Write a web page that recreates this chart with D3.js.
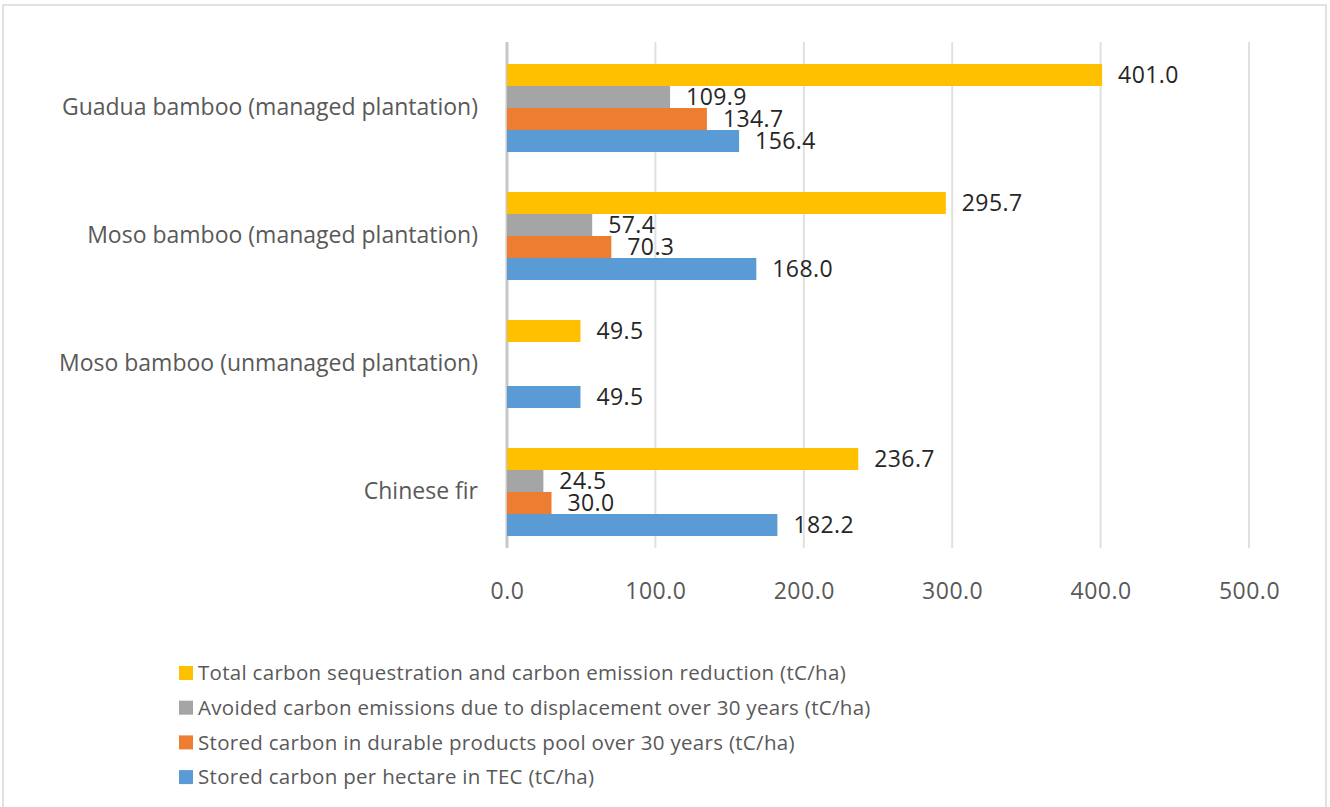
<!DOCTYPE html>
<html>
<head>
<meta charset="utf-8">
<script src="https://cdn.jsdelivr.net/npm/d3@7"></script>
<style>
  body { margin: 0; background: #fff; }
  svg { display: block; font-family: "Open Sans", "Noto Sans", sans-serif; }
</style>
</head>
<body>
<svg id="chart"></svg>
<script>
// chart data
const categories = [
  "Guadua bamboo (managed plantation)",
  "Moso bamboo (managed plantation)",
  "Moso bamboo (unmanaged plantation)",
  "Chinese fir"
];
const seriesNames = [
  "Total carbon sequestration and carbon emission reduction (tC/ha)",
  "Avoided carbon emissions due to displacement over 30 years (tC/ha)",
  "Stored carbon in durable products pool over 30 years (tC/ha)",
  "Stored carbon per hectare in TEC (tC/ha)"
];
const totalValues = [401.0, 295.7, 49.5, 236.7];
const avoidedValues = [109.9, 57.4, 0, 24.5];
const durableValues = [134.7, 70.3, 0, 30.0];
const storedValues = [156.4, 168.0, 49.5, 182.2];
const xTicks = [0, 100, 200, 300, 400, 500];

const seriesColors = ["#FFC000", "#A5A5A5", "#ED7D31", "#5B9BD5"];
const seriesValues = [totalValues, avoidedValues, durableValues, storedValues];

const width = 1330, height = 807;
const svg = d3.select("#chart").attr("width", width).attr("height", height);

// outer frame
svg.append("rect")
  .attr("x", 3).attr("y", 5)
  .attr("width", 1323).attr("height", 810)
  .attr("fill", "none")
  .attr("stroke", "#d9d9d9")
  .attr("stroke-width", 1.5);

const xScale = d3.scaleLinear().domain([0, 500]).range([507, 1249]);

const yScale = d3.scaleBand()
  .domain(categories)
  .range([44, 556])
  .paddingInner(0.3125)
  .paddingOuter(0.15625);

const ySub = d3.scaleBand()
  .domain(seriesNames)
  .range([0, yScale.bandwidth()]);

// gridlines
svg.append("g")
  .selectAll("line")
  .data(xTicks)
  .enter()
  .append("line")
  .attr("x1", d => xScale(d))
  .attr("x2", d => xScale(d))
  .attr("y1", 42)
  .attr("y2", 548)
  .attr("stroke", d => d === 0 ? "#c8c8c8" : "#e0e0e0")
  .attr("stroke-width", d => d === 0 ? 3 : 2);

// x axis labels
const xAxis = d3.axisBottom(xScale)
  .tickValues(xTicks)
  .tickFormat(d3.format(".1f"))
  .tickSize(0)
  .tickPadding(0);
const gx = svg.append("g")
  .attr("transform", "translate(0,583)")
  .call(xAxis);
gx.select(".domain").remove();
gx.selectAll("text")
  .attr("font-size", 23)
  .attr("font-family", "Open Sans, sans-serif")
  .attr("letter-spacing", 0.5)
  .attr("fill", "#595959");

// category labels
const yAxis = d3.axisLeft(yScale).tickSize(0).tickPadding(0);
const gy = svg.append("g")
  .attr("transform", "translate(478,0)")
  .call(yAxis);
gy.select(".domain").remove();
gy.selectAll("text")
  .attr("font-size", 23)
  .attr("font-family", "Open Sans, sans-serif")
  .attr("fill", "#595959");

// build flat rows for bars
const rows = [];
categories.forEach((c, i) => {
  seriesNames.forEach((s, j) => {
    rows.push({ cat: c, series: s, value: seriesValues[j][i], color: seriesColors[j] });
  });
});

svg.append("g")
  .selectAll("rect")
  .data(rows)
  .enter()
  .append("rect")
  .attr("x", xScale(0))
  .attr("y", d => yScale(d.cat) + ySub(d.series))
  .attr("width", d => xScale(d.value) - xScale(0))
  .attr("height", ySub.bandwidth())
  .attr("fill", d => d.color);

// value labels (skip the zero ones)
svg.append("g")
  .selectAll("text")
  .data(rows.filter(d => d.value > 0))
  .enter()
  .append("text")
  .attr("x", d => xScale(d.value) + 16)
  .attr("y", d => yScale(d.cat) + ySub(d.series) + ySub.bandwidth() / 2)
  .attr("dy", "0.35em")
  .attr("font-size", 23)
  .attr("letter-spacing", 0.4)
  .attr("fill", "#262626")
  .text(d => d3.format(".1f")(d.value));

// legend
const legend = svg.append("g")
  .selectAll("g")
  .data(seriesNames)
  .enter()
  .append("g")
  .attr("transform", (d, i) => `translate(179,${673 + i * 34.7})`);

legend.append("rect")
  .attr("x", 0).attr("y", -7)
  .attr("width", 14).attr("height", 14)
  .attr("fill", (d, i) => seriesColors[i]);

legend.append("text")
  .attr("x", 19)
  .attr("dy", "0.35em")
  .attr("font-size", 20.5)
  .attr("letter-spacing", 0.3)
  .attr("fill", "#595959")
  .text(d => d);
</script>
</body>
</html>
